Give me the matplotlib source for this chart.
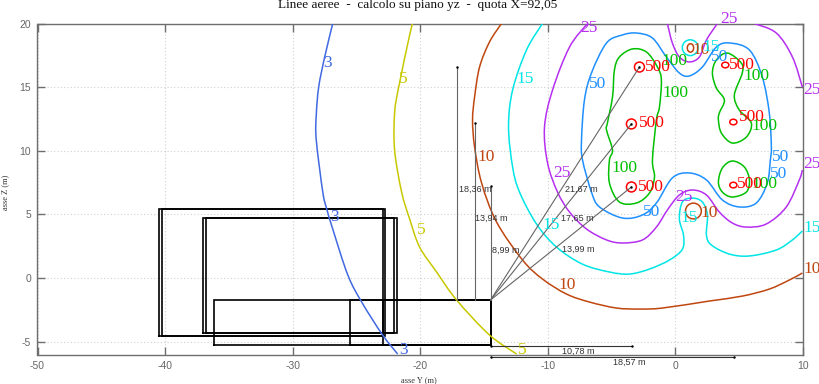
import matplotlib
matplotlib.use("Agg")
import matplotlib.pyplot as plt
from matplotlib.patches import Ellipse, PathPatch
from matplotlib.path import Path

plt.rcParams["axes.unicode_minus"] = False

SERIF = "Liberation Serif"
SANS = "Liberation Sans"

title = "Linee aeree  -  calcolo su piano yz  -  quota X=92,05"
x_ticks = [-50, -40, -30, -20, -10, 0, 10]
y_ticks = [-5, 0, 5, 10, 15, 20]

level3 = [(-26.86,20),(-27.49,17.37),(-27.96,15.01),(-28.15,12.81),(-28.15,10.85),(-27.64,6.76),
          (-27.33,5.43),(-26.86,3.86),(-25.68,0.25),(-24.59,-1.88),(-22.95,-4.47),(-21.77,-5.96)]
level5 = [(-20.6,20),(-20.83,19.1),(-21.69,15.01),(-22.01,12.97),(-22.01,10.06),(-21.46,6.76),(-20.83,4.64),
          (-20.05,2.44),(-18.72,0.48),(-17.15,-1.72),(-14.57,-4.47),(-12.45,-5.96)]
level10 = [(-13.63,20),(-14.57,18.55),(-15.35,16.58),(-15.74,14.23),(-15.9,12.42),(-15.74,10.3),(-15.19,7.47),
           (-14.02,4.41),(-11.98,1.42),(-10.42,-0.07),(-8.54,-1.25),(-6.73,-1.88),(-4.62,-2.35),(-2.82,-2.43),
           (-1.02,-2.35),(2.66,-1.8),(5.25,-1.41),(7.36,-0.86),(8.93,-0.15),(9.95,0.4)]
level15 = [(-10.42,20),(-11.67,17.92),(-12.76,14.78),(-13.08,11.87),(-12.76,8.73),(-12.22,6.76),(-10.89,4.25),
           (-9.32,2.44),(-7.29,1.1),(-5.17,0.48),(-3.6,0.32),(-2.04,0.71),(-0.47,1.42),(0.55,2.28),(0.63,3.39),
           (0.31,4.64),(0.55,5.98),(1.33,6.29),(2.11,5.98),(2.51,4.96),(2.43,3.39),(2.82,2.6),(4.23,1.89),
           (5.8,1.74),(7.91,2.21),(9.17,3.0),(9.95,3.7)]
level25_main = [(-6.89,20),(-8.3,18.15),(-9.63,14.78),(-10.26,11.87),(-10.02,9.04),(-9.24,6.76),(-8.3,5.19),
                (-6.97,3.86),(-5.4,3.0),(-4.15,2.76),(-2.58,3.0),(-1.49,4.01),(-0.63,5.35),(0.31,6.53),(1.33,6.92),
                (2.43,6.53),(3.44,5.19),(4.46,4.33),(5.56,4.01),(7.12,4.25),(8.69,5.59),(9.71,7.71),(9.95,8.49)]
level25_right = [(6.18,20),(7.91,19.25),(9.17,17.37),(9.95,15.01)]
level25_top = [(-0.63,20),(-0.24,18.47),(0.31,17.37),(1.09,16.98),(1.88,17.37),(2.43,18.7),(3.29,20)]
level50 = [(-7.36,10.85),(-7.13,13.99),(-6.58,16.11),(-5.4,18.47),(-4.15,19.1),(-3.05,19.25),(-1.8,18.86),
           (-0.71,17.37),(0.31,16.11),(1.09,15.88),(2.11,16.58),(3.21,18.15),(4.23,18.47),(5.8,17.92),(6.81,15.8),
           (7.36,12.97),(7.52,10.3),(7.44,9.28),(7.2,7.47),(6.34,5.9),(5.01,5.59),(3.68,6.14),(2.43,7.71),
           (1.09,8.26),(-0.24,7.87),(-1.49,5.9),(-2.58,4.96),(-4.15,4.72),(-5.95,5.59),(-6.58,6.76),(-7.28,9.28),
           (-7.36,10.85)]
level100_left = [(-4.78,16.35),(-4.39,17.37),(-3.37,18.0),(-2.27,17.76),(-1.41,16.58),(-1.1,15.56),(-1.25,13.44),
                 (-1.49,12.42),(-1.8,9.28),(-1.64,7.94),(-2.04,6.68),(-3.05,5.9),(-4.39,5.98),(-5.17,7.47),
                 (-5.17,9.28),(-4.93,10.06),(-5.4,11.63),(-5.33,12.18),(-4.93,14.23),(-4.78,16.35)]
level100_upper = [(4.07,17.68),(3.21,17.13),(2.9,16.11),(3.21,14.93),(3.84,13.99),(3.44,12.97),(3.37,12.42),
                  (3.6,11.4),(4.46,10.61),(5.56,11.08),(5.95,12.18),(5.01,13.2),(4.62,14.38),(5.24,16.11),
                  (5.16,16.9),(4.07,17.68)]
level100_lower = [(4.46,9.2),(3.68,8.65),(3.37,7.55),(3.68,6.76),(4.46,6.37),(5.56,6.76),(5.8,7.71),(5.4,8.73),(4.46,9.2)]

rings500 = [(-2.82,16.58,0.39,0.39),(-3.45,12.11,0.39,0.39),(-3.45,7.16,0.39,0.39),
            (3.91,16.74,0.28,0.22),(4.54,12.26,0.28,0.22),(4.54,7.31,0.28,0.22)]
rings10 = [(1.18,18.08,0.25,0.33),(1.41,5.27,0.62,0.62)]
rings15 = [(1.16,18.1,0.62,0.62)]

labels3 = [(-27.25,16.9),(-26.7,4.8),(-21.3,-5.65)]
labels5 = [(-21.3,15.64),(-19.89,3.78),(-11.98,-5.65)]
labels10 = [(-14.8,9.51),(-8.46,-0.54),(10.73,0.72),(2.03,17.92),(2.66,5.11)]
labels15 = [(-11.75,15.64),(-9.71,4.17),(1.09,4.72),(10.73,3.94),(2.82,18.15)]
labels25 = [(-6.74,19.65),(4.23,20.35),(10.73,14.78),(10.73,8.96),(-8.93,8.26),(0.7,6.37)]
labels50 = [(-6.11,15.25),(3.44,17.37),(8.22,9.51),(8.07,8.18),(-1.88,5.19)]
labels100 = [(-0.08,17.05),(0.0,14.54),(6.34,15.88),(6.97,11.95),(-4.0,8.65),(6.97,7.39)]
labels500 = [(-1.41,16.58),(-1.88,12.18),(-1.96,7.16),(5.24,16.74),(6.03,12.66),(5.87,7.39)]

buildings = [(-40.49,-22.79,-4.55,5.43),(-40.25,-22.95,-4.55,5.43),
             (-37.04,-21.85,-4.31,4.72),(-36.8,-22.08,-4.31,4.72),
             (-36.18,-14.49,-5.25,-1.72),(-25.53,-14.49,-5.25,-1.72),(-22.95,-14.49,-5.25,-1.72)]

dim_origin_top = (-14.49,-1.72)
dim_verticals = [(-17.15,16.58),(-15.74,12.18),(-14.49,7.27)]
dim_targets = [(-2.82,16.58),(-3.45,12.11),(-3.45,7.16)]
dim_horizontals = [(-14.49,-3.4,-5.3),(-14.49,4.6,-6.17)]
dim_text = [("18,36 m",-15.66,7.0),("13,94 m",-14.41,4.72),("8,99 m",-13.31,2.21),("21,67 m",-7.36,7.0),
            ("17,65 m",-7.67,4.72),("13,99 m",-7.59,2.29),("10,78 m",-7.59,-5.73),("18,57 m",-3.6,-6.59)]

C3, C5, C10, C15, C25, C50, C100, C500 = "#4169e1", "#c8c800", "#c0460f", "#00e5e5", "#b62ff0", "#1e8fff", "#00c000", "#ff0000"
GRAY = "#6e6e6e"
DIM = "#666666"


def smooth_path(points):
    """Bezier path through the read points (Catmull-Rom tangents)."""
    closed = points[0] == points[-1]
    n = len(points)
    verts = [points[0]]
    codes = [Path.MOVETO]
    for i in range(n - 1):
        p1, p2 = points[i], points[i + 1]
        if closed:
            p0 = points[(i - 1) % (n - 1)]
            p3 = points[(i + 2) % (n - 1)]
        else:
            p0 = points[max(i - 1, 0)]
            p3 = points[min(i + 2, n - 1)]
        verts.append((p1[0] + (p2[0] - p0[0]) / 6, p1[1] + (p2[1] - p0[1]) / 6))
        verts.append((p2[0] - (p3[0] - p1[0]) / 6, p2[1] - (p3[1] - p1[1]) / 6))
        verts.append(p2)
        codes += [Path.CURVE4] * 3
    return Path(verts, codes)


fig = plt.figure(figsize=(8.2, 3.84), dpi=100)
ax = fig.add_axes([37.5/820, 1-354.5/384, 765.5/820, 331/384])
ax.set_xlim(-50, 10)
ax.set_ylim(-6, 20)
ax.set_xticks(x_ticks)
ax.set_yticks(y_ticks)
ax.grid(True, linestyle=(0, (1, 2)), color="#d0d0d0", linewidth=0.8)
ax.set_axisbelow(True)
ax.tick_params(direction="in", length=6, width=1, color=GRAY, top=True, right=True,
               labelcolor="#666666", labelsize=7.5, pad=4.5)
for lab in ax.get_xticklabels() + ax.get_yticklabels():
    lab.set_family(SANS)
for s in ax.spines.values():
    s.set_color(GRAY)
    s.set_linewidth(1)

for x0, x1, y0, y1 in buildings:
    ax.plot([x0, x1, x1, x0, x0], [y0, y0, y1, y1, y0], color="black", lw=1.2, zorder=3, solid_joinstyle="miter")

for curve, c in [(level3, C3), (level5, C5), (level10, C10), (level15, C15), (level25_main, C25),
                 (level25_right, C25), (level25_top, C25), (level50, C50), (level100_left, C100),
                 (level100_upper, C100), (level100_lower, C100)]:
    ax.add_patch(PathPatch(smooth_path(curve), fill=False, edgecolor=c, lw=1.1, zorder=4))

for rings, c in [(rings500, C500), (rings10, C10), (rings15, C15)]:
    for x, y, rx, ry in rings:
        ax.add_patch(Ellipse((x, y), 2*rx, 2*ry, fill=False, edgecolor=c, lw=1.1, zorder=4))

for xv, top in dim_verticals:
    ax.plot([xv, xv], [dim_origin_top[1], top], color=DIM, lw=0.8, zorder=5)
    ax.plot([xv], [top], ".", color="black", ms=1.5, zorder=5)
for tx, ty in dim_targets:
    ax.plot([dim_origin_top[0], tx], [dim_origin_top[1], ty], color=DIM, lw=0.8, zorder=5)
    ax.plot([tx], [ty], ".", color="black", ms=1.5, zorder=5)
for x0, x1, yv in dim_horizontals:
    ax.plot([x0, x1], [yv, yv], color="#333333", lw=0.8, zorder=5, clip_on=False)
    ax.plot([x0, x1], [yv, yv], ".", color="black", ms=1.5, zorder=5, clip_on=False)
for txt, x, y in dim_text:
    ax.text(x, y, txt, family=SANS, fontsize=6.5, color="#333333", ha="center", va="center", zorder=6, clip_on=False)

for pts, txt, c in [(labels3, "3", C3), (labels5, "5", C5), (labels10, "10", C10), (labels15, "15", C15),
                    (labels25, "25", C25), (labels50, "50", C50), (labels100, "100", C100), (labels500, "500", C500)]:
    for x, y in pts:
        ax.text(x, y, txt, family=SERIF, fontsize=12.5, color=c, ha="center", va="center", zorder=6, clip_on=False)

fig.text(418/820, 1-5/384, title, family=SERIF, fontsize=9.5, color="#111111", ha="center", va="center")
fig.text(419/820, 1-380/384, "asse Y (m)", family=SERIF, fontsize=6, color="#333333", ha="center", va="center")
fig.text(5/820, 1-192/384, "asse Z (m)", family=SERIF, fontsize=6, color="#333333", ha="center", va="center", rotation=90)

fig.savefig("out.png", dpi=100)
